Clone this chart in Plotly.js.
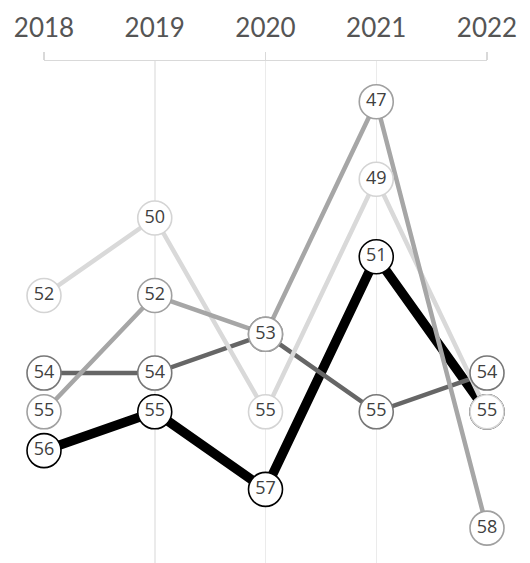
<!DOCTYPE html>
<html>
<head>
<meta charset="utf-8">
<script src="https://cdn.plot.ly/plotly-3.0.1.min.js"></script>
<style>html,body{margin:0;padding:0;background:#fff;}#chart{width:530px;height:563px;}</style>
</head>
<body>
<div id="chart"></div>
<script>
const years = [2018, 2019, 2020, 2021, 2022];
const blackSeries = [56, 55, 57, 51, 55];
const darkSeries = [54, 54, 53, 55, 54];
const lightSeries = [52, 50, 55, 49, 55];
const mediumSeries = [55, 52, 53, 47, 58];
const tickYears = [2018, 2020, 2022];

const series = [
  {y: blackSeries, color: '#000000', width: 9.5, mline: '#000000'},
  {y: darkSeries, color: '#666666', width: 4.5, mline: '#777777'},
  {y: lightSeries, color: '#d9d9d9', width: 4.5, mline: '#d4d4d4'},
  {y: mediumSeries, color: '#a6a6a6', width: 4.5, mline: '#a0a0a0'}
];

const traces = [];
series.forEach(s => {
  traces.push({x: years, y: s.y, type: 'scatter', mode: 'lines', cliponaxis: false,
    line: {color: s.color, width: s.width}, hoverinfo: 'skip', showlegend: false});
});
series.forEach(s => {
  traces.push({x: years, y: s.y, type: 'scatter', mode: 'markers+text', cliponaxis: false,
    text: s.y.map(String), textposition: 'middle center',
    textfont: {family: 'Open Sans, sans-serif', size: 18, color: '#404040'},
    marker: {size: 34, color: '#ffffff', line: {color: s.mline, width: 1.6}},
    hoverinfo: 'skip', showlegend: false});
});
// invisible trace for the bracket axis
traces.push({x: tickYears, y: [50, 50, 50], xaxis: 'x2', type: 'scatter', mode: 'markers',
  marker: {opacity: 0}, hoverinfo: 'skip', showlegend: false});

const layout = {
  width: 530, height: 563,
  margin: {l: 44, r: 43, t: 61, b: 0},
  paper_bgcolor: '#ffffff', plot_bgcolor: '#ffffff',
  xaxis: {
    side: 'top', range: [2018, 2022], tickvals: years, ticktext: years.map(String),
    showgrid: true, gridcolor: '#ebebeb', gridwidth: 1.5, zeroline: false,
    showline: false, ticks: '', ticklabelstandoff: 18,
    tickfont: {family: 'Lato, sans-serif', size: 26, color: '#555555'}
  },
  xaxis2: {
    overlaying: 'x', side: 'top', range: [2018, 2022], tickvals: tickYears,
    showticklabels: false, ticks: 'outside', ticklen: 8, tickcolor: '#d9d9d9', tickwidth: 1.5,
    showline: true, linecolor: '#d9d9d9', linewidth: 1.5, showgrid: false, zeroline: false
  },
  yaxis: {
    range: [58.9, 45.95], showgrid: false, zeroline: false, showline: false,
    showticklabels: false, ticks: ''
  }
};

Plotly.newPlot('chart', traces, layout, {displayModeBar: false, staticPlot: true});
</script>
</body>
</html>
